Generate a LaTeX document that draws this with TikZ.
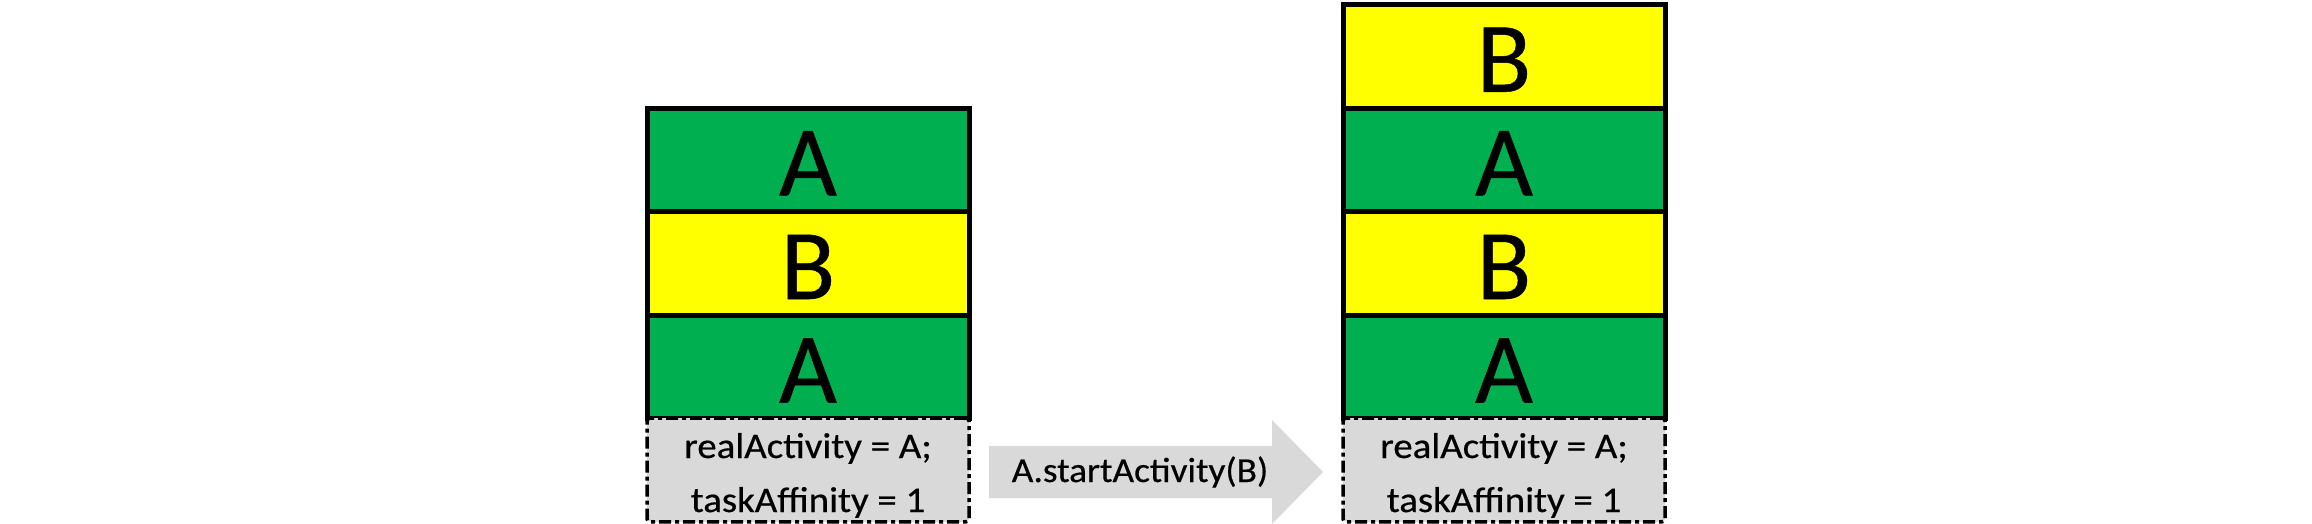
\documentclass[tikz,border=0pt]{standalone}
\usepackage{fontspec}
\setmainfont{Carlito}[FakeBold=0.5]
\definecolor{actgreen}{HTML}{00B050}
\definecolor{actyellow}{HTML}{FFFF00}
\definecolor{infogray}{HTML}{D9D9D9}
\newcommand{\wideinfo}[1]{\scalebox{1.08}[1]{#1}}
\newcommand{\widecall}[1]{\scalebox{1.065}[1]{#1}}
\tikzset{
  actbox/.style={draw=black, line width=5pt, minimum width=322pt, minimum height=103.6pt,
    inner sep=0pt, text height=71pt, text depth=0pt, font=\fontsize{100}{100}\selectfont, anchor=north},
  actA/.style={actbox, fill=actgreen},
  actB/.style={actbox, fill=actyellow},
  infobox/.style={draw=black, fill=infogray, line width=3.5pt,
    dash pattern=on 12pt off 4pt on 4pt off 4pt, minimum width=322pt, minimum height=103.6pt,
    inner sep=0pt, anchor=north, rounded corners=3pt},
  infotext/.style={font=\fontsize{36}{43}\selectfont, anchor=base, inner sep=0pt},
  calltext/.style={font=\fontsize{35}{42}\selectfont, anchor=base, inner sep=0pt},
  blockarrow/.style={fill=infogray}
}
\begin{document}
\begin{tikzpicture}[x=1pt, y=-1pt]
\useasboundingbox (0,0) rectangle (2312,524);
% left stack
\node[actA] (l1) at (808,105.6) {A};
\node[actB] (l2) at (808,209.2) {B};
\node[actA] (l3) at (808,312.8) {A};
\node[infobox] (l4) at (808,416.4) {};
\node[infotext] (l4a) at (808,458) {\wideinfo{realActivity = A;}};
\node[infotext] (l4b) at (808,512) {\wideinfo{taskAffinity = 1}};
% right stack
\node[actB] (r1) at (1504,2) {B};
\node[actA] (r2) at (1504,105.6) {A};
\node[actB] (r3) at (1504,209.2) {B};
\node[actA] (r4) at (1504,312.8) {A};
\node[infobox] (r5) at (1504,416.4) {};
\node[infotext] (r5a) at (1504,458) {\wideinfo{realActivity = A;}};
\node[infotext] (r5b) at (1504,512) {\wideinfo{taskAffinity = 1}};
% block arrow
\fill[blockarrow] (989,446) -- (1272,446) -- (1272,420) -- (1323,472) -- (1272,524)
  -- (1272,498) -- (989,498) -- cycle;
\node[calltext] (call) at (1140,482) {\widecall{A.startActivity(B)}};
\end{tikzpicture}
\end{document}
